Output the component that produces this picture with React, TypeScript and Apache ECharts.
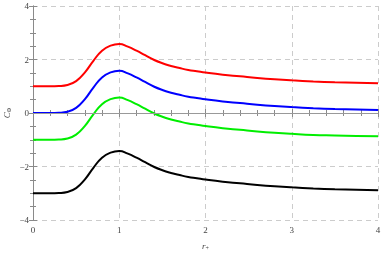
import React, { useEffect, useRef } from "react";
import * as echarts from "echarts";

const xValues = [0, 0.1, 0.2, 0.3, 0.4, 0.5, 0.6, 0.7, 0.8, 0.9, 1.0, 1.1, 1.2, 1.3, 1.4, 1.5, 1.6, 1.7, 1.8, 1.9, 2.0, 2.2, 2.4, 2.6, 2.8, 3.0, 3.25, 3.5, 3.75, 4.0];
const redValues = [1, 1, 1, 1.008, 1.045, 1.19, 1.51, 1.95, 2.33, 2.52, 2.58, 2.48, 2.33, 2.16, 1.99, 1.86, 1.76, 1.68, 1.61, 1.56, 1.51, 1.43, 1.37, 1.31, 1.26, 1.22, 1.18, 1.15, 1.13, 1.11];
const blueValues = [0, 0, 0, 0.008, 0.045, 0.19, 0.51, 0.95, 1.33, 1.52, 1.58, 1.48, 1.33, 1.16, 0.99, 0.86, 0.76, 0.68, 0.61, 0.56, 0.51, 0.43, 0.37, 0.31, 0.26, 0.22, 0.18, 0.15, 0.13, 0.11];
const greenValues = [-1, -1, -1, -0.992, -0.955, -0.81, -0.49, -0.05, 0.33, 0.52, 0.58, 0.48, 0.33, 0.16, -0.01, -0.14, -0.24, -0.32, -0.39, -0.44, -0.49, -0.57, -0.63, -0.69, -0.74, -0.78, -0.82, -0.84, -0.86, -0.87];
const blackValues = [-3, -3, -3, -2.992, -2.955, -2.81, -2.49, -2.05, -1.67, -1.48, -1.42, -1.52, -1.67, -1.84, -2.01, -2.14, -2.24, -2.32, -2.39, -2.44, -2.49, -2.57, -2.63, -2.69, -2.74, -2.78, -2.82, -2.85, -2.87, -2.89];
const xTicks = [0, 1, 2, 3, 4];
const yTicks = [-4, -2, 0, 2, 4];

const seriesDefs = [
  { name: "red", color: "#ff0000", values: redValues },
  { name: "blue", color: "#0000ff", values: blueValues },
  { name: "green", color: "#00ee00", values: greenValues },
  { name: "black", color: "#000000", values: blackValues },
];

const serif = "Liberation Serif";
const axisGray = "#8a8a8a";
const labelGray = "#444444";

export default function App() {
  const ref = useRef<HTMLDivElement>(null);
  useEffect(() => {
    if (!ref.current) return;
    const chart = echarts.init(ref.current, undefined, { renderer: "svg" });
    const tickBase = {
      show: true,
      inside: true,
      length: 4,
      lineStyle: { color: axisGray, width: 1 },
    };
    const nameRich = {
      i: { fontFamily: serif, fontStyle: "italic", fontSize: 9, color: labelGray, lineHeight: 10 },
      s: { fontFamily: serif, fontSize: 6, color: labelGray, lineHeight: 10, verticalAlign: "bottom", padding: [4, 0, 0, 0] },
    };
    const option: any = {
      animation: false,
      grid: { left: 33, right: 4, top: 6, bottom: 33, containLabel: false, outerBoundsMode: "none" },
      xAxis: [
        {
          type: "value",
          min: xTicks[0],
          max: xTicks[xTicks.length - 1],
          interval: 1,
          position: "bottom",
          axisLine: { show: true, lineStyle: { color: axisGray, width: 1 } },
          axisTick: tickBase,
          minorTick: { show: true, splitNumber: 5, length: 3, lineStyle: { color: axisGray } },
          axisLabel: { color: labelGray, fontFamily: serif, fontSize: 9, margin: 5 },
          splitLine: { show: true, lineStyle: { color: "#cccccc", type: [5, 4], width: 1 } },
          name: "{i|r}{s|+}",
          nameLocation: "middle",
          nameGap: 21,
          nameMoveOverlap: false,
          nameTextStyle: { rich: nameRich },
        },
        {
          type: "value",
          min: 0,
          max: 4,
          interval: 1,
          position: "top",
          axisLine: { show: true, lineStyle: { color: axisGray, width: 1 } },
          axisTick: tickBase,
          minorTick: { show: true, splitNumber: 5, length: 3, lineStyle: { color: axisGray } },
          axisLabel: { show: false },
          splitLine: { show: false },
        },
      ],
      yAxis: [
        {
          type: "value",
          min: yTicks[0],
          max: yTicks[yTicks.length - 1],
          interval: 2,
          position: "left",
          axisLine: { show: true, lineStyle: { color: axisGray, width: 1 } },
          axisTick: tickBase,
          minorTick: { show: true, splitNumber: 4, length: 3, lineStyle: { color: axisGray } },
          axisLabel: {
            color: labelGray,
            fontFamily: serif,
            fontSize: 9,
            margin: 4,
            formatter: (v: number) => (v < 0 ? "\u2212" + Math.abs(v) : String(v)),
          },
          splitLine: { show: true, lineStyle: { color: "#cccccc", type: [5, 4], width: 1 } },
          name: "{i|C}{s|\u03A6}",
          nameLocation: "middle",
          nameGap: 21,
          nameMoveOverlap: false,
          nameTextStyle: { rich: nameRich },
        },
        {
          type: "value",
          min: -4,
          max: 4,
          interval: 2,
          position: "right",
          axisLine: { show: true, lineStyle: { color: axisGray, width: 1 } },
          axisTick: tickBase,
          minorTick: { show: true, splitNumber: 4, length: 3, lineStyle: { color: axisGray } },
          axisLabel: { show: false },
          splitLine: { show: false },
        },
      ],
      series: [
        {
          type: "line",
          data: [],
          markLine: {
            silent: true,
            symbol: "none",
            label: { show: false },
            lineStyle: { color: "#999999", type: "solid", width: 1 },
            data: [{ yAxis: 0 }],
          },
        },
        ...seriesDefs.map((s) => ({
          name: s.name,
          type: "line",
          data: xValues.map((x, i) => [x, s.values[i]]),
          smooth: 0.5,
          showSymbol: false,
          lineStyle: { color: s.color, width: 2 },
          itemStyle: { color: s.color },
          z: 3,
        })),
      ],
    };
    chart.setOption(option);
    return () => chart.dispose();
  }, []);
  return (
    <div
      ref={ref}
      style={{ position: "fixed", left: 0, top: 0, width: 382, height: 253 }}
    />
  );
}
